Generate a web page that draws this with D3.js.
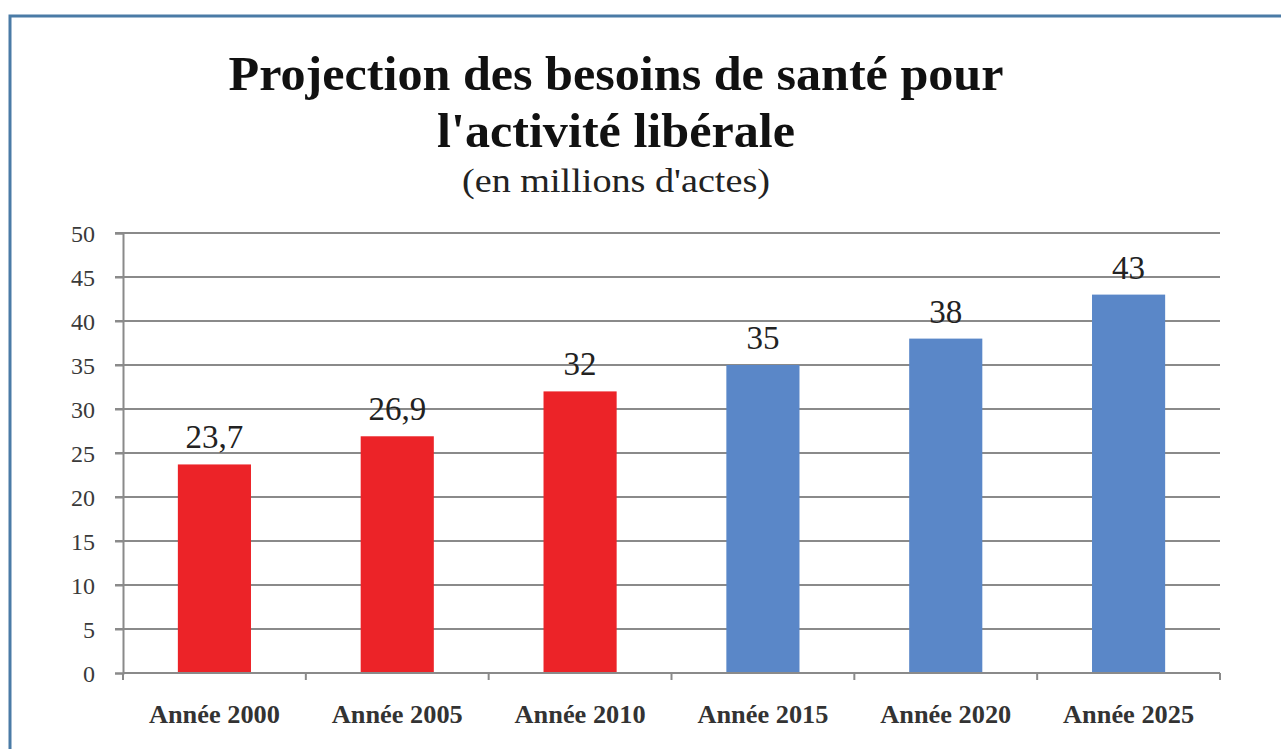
<!DOCTYPE html>
<html>
<head>
<meta charset="utf-8">
<script src="https://cdn.jsdelivr.net/npm/d3@7"></script>
<style>
  html, body { margin: 0; padding: 0; background: #fff; }
  svg { display: block; }
  .yaxis text { font-family: "Liberation Serif", "DejaVu Serif", serif; font-size: 24px; }
</style>
</head>
<body>
<div id="chart"></div>
<script>
// data
const categories = ["Année 2000", "Année 2005", "Année 2010", "Année 2015", "Année 2020", "Année 2025"];
const values = [23.7, 26.9, 32, 35, 38, 43];
const valueLabels = ["23,7", "26,9", "32", "35", "38", "43"];
const projected = [false, false, false, true, true, true];
const yTicks = [0, 5, 10, 15, 20, 25, 30, 35, 40, 45, 50];
const titleLines = ["Projection des besoins de santé pour", "l'activité libérale"];
const titleWidths = [775, 358];
const subtitle = "(en millions d'actes)";

const width = 1281, height = 749;
const margin = {top: 233, right: 61, bottom: 76, left: 123};
const serif = "'Liberation Serif', 'DejaVu Serif', serif";

const svg = d3.select("#chart")
  .append("svg")
  .attr("width", width)
  .attr("height", height);

// outer frame
svg.append("rect")
  .attr("x", 10).attr("y", 16)
  .attr("width", 1300).attr("height", 800)
  .attr("fill", "none")
  .attr("stroke", "#4a7ba6")
  .attr("stroke-width", 3);

const x = d3.scaleBand()
  .domain(categories)
  .range([margin.left, width - margin.right])
  .paddingInner(0.6)
  .paddingOuter(0.3);

const y = d3.scaleLinear()
  .domain([0, 50])
  .range([height - margin.bottom, margin.top]);

// gridlines
svg.append("g")
  .selectAll("line")
  .data(yTicks.filter(d => d > 0))
  .join("line")
    .attr("x1", margin.left - 8)
    .attr("x2", width - margin.right)
    .attr("y1", d => y(d))
    .attr("y2", d => y(d))
    .attr("stroke", "#8a8a8a")
    .attr("stroke-width", 2);

// y axis
const yAxis = svg.append("g")
  .attr("class", "yaxis")
  .attr("transform", `translate(${margin.left},0)`)
  .call(d3.axisLeft(y).tickValues(yTicks).tickSize(8).tickPadding(20));
yAxis.attr("font-family", null).attr("font-size", null);
yAxis.select(".domain").attr("stroke", "#8a8a8a").attr("stroke-width", 2);
yAxis.selectAll(".tick line").attr("stroke", "#8a8a8a").attr("stroke-width", 2);
yAxis.selectAll(".tick text")
  .attr("fill", "#3a3a3a")
  .attr("dy", "0.34em");

// bars
svg.append("g")
  .selectAll("rect")
  .data(values)
  .join("rect")
    .attr("x", (d, i) => x(categories[i]))
    .attr("y", d => y(d))
    .attr("width", x.bandwidth())
    .attr("height", d => y(0) - y(d))
    .attr("fill", (d, i) => projected[i] ? "#5a87c8" : "#ec2328");

// x axis
const boundaries = categories.map(c => x(c) - x.step() * x.paddingInner() / 2)
  .concat([width - margin.right]);
const xg = svg.append("g");
xg.append("line")
  .attr("x1", margin.left).attr("x2", width - margin.right)
  .attr("y1", y(0)).attr("y2", y(0))
  .attr("stroke", "#8a8a8a").attr("stroke-width", 2);
xg.selectAll(".tk")
  .data(boundaries)
  .join("line")
    .attr("class", "tk")
    .attr("x1", d => d).attr("x2", d => d)
    .attr("y1", y(0)).attr("y2", y(0) + 7)
    .attr("stroke", "#8a8a8a").attr("stroke-width", 2);
xg.selectAll("text")
  .data(categories)
  .join("text")
    .attr("x", d => x(d) + x.bandwidth() / 2)
    .attr("y", y(0) + 50)
    .attr("text-anchor", "middle")
    .attr("fill", "#333")
    .attr("textLength", 131)
    .attr("lengthAdjust", "spacingAndGlyphs")
    .style("font", `bold 25px ${serif}`)
    .text(d => d);

// value labels
svg.append("g")
  .selectAll("text")
  .data(values)
  .join("text")
    .attr("x", (d, i) => x(categories[i]) + x.bandwidth() / 2)
    .attr("y", d => y(d) - 16)
    .attr("text-anchor", "middle")
    .attr("fill", "#222")
    .style("font", `33px ${serif}`)
    .text((d, i) => valueLabels[i]);

// titles
svg.append("g")
  .selectAll("text")
  .data(titleLines)
  .join("text")
    .attr("x", 616)
    .attr("y", (d, i) => 90 + i * 57)
    .attr("text-anchor", "middle")
    .attr("fill", "#111")
    .attr("textLength", (d, i) => titleWidths[i])
    .attr("lengthAdjust", "spacingAndGlyphs")
    .style("font", `bold 48px ${serif}`)
    .text(d => d);

svg.append("text")
  .attr("x", 616)
  .attr("y", 192)
  .attr("text-anchor", "middle")
  .attr("fill", "#222")
  .attr("textLength", 308)
  .attr("lengthAdjust", "spacingAndGlyphs")
  .style("font", `33px ${serif}`)
  .text(subtitle);
</script>
</body>
</html>
